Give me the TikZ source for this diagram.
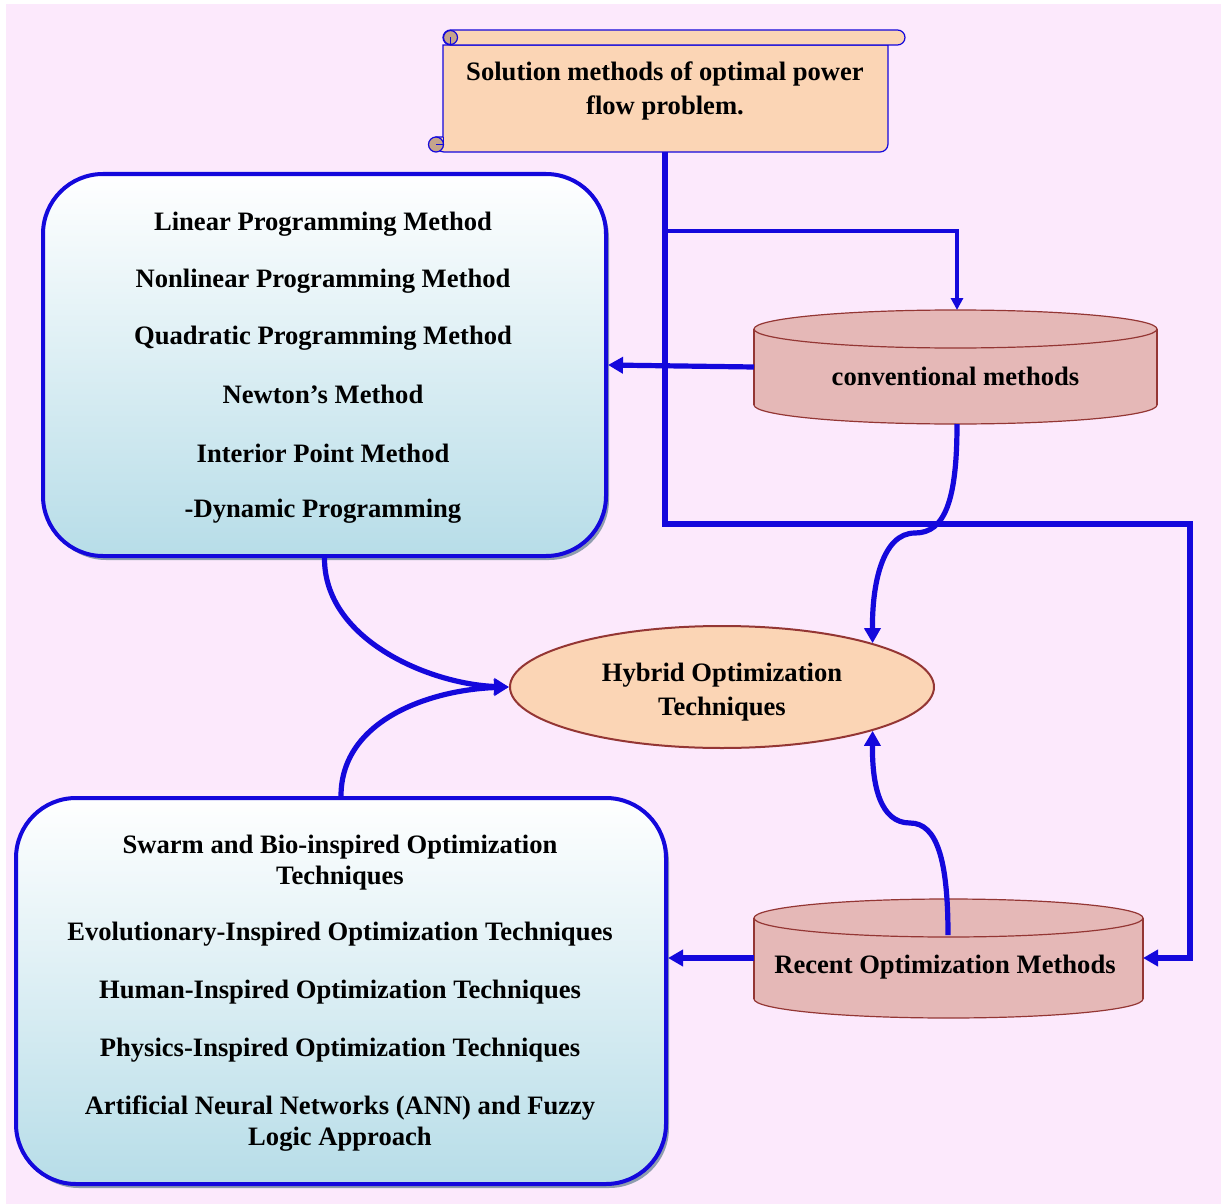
\documentclass[tikz,border=0pt]{standalone}
\usepackage{fontspec}
\setmainfont{Liberation Serif}
\usetikzlibrary{arrows.meta,shapes.geometric,shadows}

\definecolor{bgpink}{HTML}{FCE9FC}
\definecolor{linkblue}{HTML}{1408DC}
\definecolor{peach}{HTML}{FBD5B5}
\definecolor{rosefill}{HTML}{E5B8B7}
\definecolor{rosedraw}{HTML}{943634}
\definecolor{paleblue}{HTML}{B7DDE8}
\definecolor{shadowgray}{HTML}{8E9DAE}
\definecolor{curltan}{HTML}{C4A48C}

\tikzset{
  label/.style={font=\fontsize{26.6}{31}\selectfont\bfseries, align=center, inner sep=0pt},
  methodbox/.style={draw=linkblue, line width=4pt, rounded corners=60pt,
    top color=white, bottom color=paleblue, inner sep=0pt,
    drop shadow={shadow xshift=3pt, shadow yshift=-4pt, fill=shadowgray, opacity=1}},
  scrollpart/.style={draw=linkblue, line width=1.2pt, fill=peach},
  curl/.style={draw=linkblue, line width=1.2pt, fill=curltan},
  cylpart/.style={draw=rosedraw, line width=1.2pt, fill=rosefill},
  link/.style={draw=linkblue, line width=5.2pt},
  thinlink/.style={draw=linkblue, line width=3.8pt},
  bigtip/.style={-{Triangle[length=15pt,width=16pt]}},
  smalltip/.style={-{Triangle[length=12pt,width=12pt]}},
}

\begin{document}
\begin{tikzpicture}[x=1pt,y=-1pt]
\useasboundingbox (0,0) rectangle (1221,1204);
\fill[bgpink] (6,4) rectangle (1221,1204);

% scroll banner
\path[scrollpart] (443,45) -- (888,45) {[rounded corners=8pt] -- (888,152) -- (436,152)} -- (436,137) -- (443,137) -- cycle;
\path[scrollpart, rounded corners=7.5pt] (443,30) rectangle (905,45);
\path[curl] (450.5,37.5) circle [radius=7pt];
\draw[linkblue, line width=1pt] (450.5,37.5) -- (450.5,45);
\path[curl] (436,144.5) circle [radius=7.5pt];
\draw[linkblue, line width=1pt] (436,144.5) -- (443,144.5) -- (443,137);
\node[label] (title) at (665,91) {Solution methods of optimal power\\[3pt]flow problem.};
\coordinate (scb) at (665,152);
\coordinate (branch) at (665,231);
\coordinate (loop) at (1190,524);

% conventional methods cylinder
\path[cylpart] (955.5,405) ellipse [x radius=201.5pt, y radius=19pt];
\fill[rosefill] (754,329) rectangle (1157,405);
\draw[rosedraw, line width=1.2pt] (754,329) -- (754,405) (1157,329) -- (1157,405);
\path[cylpart] (955.5,329) ellipse [x radius=201.5pt, y radius=19pt];
\node[label] (convtext) at (955.5,376) {conventional methods};
\coordinate (convtop) at (957,310);
\coordinate (convwest) at (754,367);
\coordinate (convsouth) at (957,424);

% recent methods cylinder
\path[cylpart] (948.5,999) ellipse [x radius=194.5pt, y radius=19pt];
\fill[rosefill] (754,918) rectangle (1143,999);
\draw[rosedraw, line width=1.2pt] (754,918) -- (754,999) (1143,918) -- (1143,999);
\path[cylpart] (948.5,918) ellipse [x radius=194.5pt, y radius=19pt];
\node[label] (recenttext) at (945,967) {Recent Optimization Methods};
\coordinate (recentwest) at (754,958);
\coordinate (recenteast) at (1143,958);
\coordinate (recenttop) at (948,935);

% method boxes
\node[methodbox, minimum width=563pt, minimum height=382pt] (classic) at (324.5,365) {};
\node[label] (m1) at (323,224) {Linear Programming Method};
\node[label] (m2) at (323,281) {Nonlinear Programming Method};
\node[label] (m3) at (323,338) {Quadratic Programming Method};
\node[label] (m4) at (323,394) {Newton’s Method};
\node[label] (m5) at (323,453) {Interior Point Method};
\node[label] (m6) at (323,511) {-Dynamic Programming};

\node[methodbox, minimum width=650pt, minimum height=386pt] (modern) at (341,991) {};
\node[label] (n1) at (340,863) {Swarm and Bio-inspired Optimization\\Techniques};
\node[label] (n2) at (340,934) {Evolutionary-Inspired Optimization Techniques};
\node[label] (n3) at (340,992) {Human-Inspired Optimization Techniques};
\node[label] (n4) at (340,1050) {Physics-Inspired Optimization Techniques};
\node[label] (n5) at (340,1124) {Artificial Neural Networks (ANN) and Fuzzy\\Logic Approach};

% hybrid ellipse
\node[ellipse, draw=rosedraw, line width=2pt, fill=peach, minimum width=424pt, minimum height=122pt, inner sep=0pt] (hybrid) at (722,687) {};
\node[label] (hybridtext) at (722,692) {Hybrid Optimization\\[3pt]Techniques};

% connectors
\draw[link, bigtip] (scb) |- (loop) |- (recenteast);
\draw[thinlink, smalltip] (branch) -| (convtop);
\draw[link, bigtip] (convwest) -- (classic.east);
\draw[link, bigtip] (recentwest) -- (recentwest -| modern.east);
\draw[link, bigtip] (convsouth) .. controls (957,500) and (945,533) .. (915,533)
  .. controls (882,533) and (872,585) .. (hybrid.north east);
\draw[link, bigtip] (recenttop) .. controls (948,860) and (937,823) .. (910,823)
  .. controls (880,823) and (872,785) .. (hybrid.south east);
\draw[link, bigtip] (classic.south) .. controls (324,640) and (430,684) .. (hybrid.west);
\draw[link, bigtip] (modern.north) .. controls (341,720) and (430,690) .. (hybrid.west);
\end{tikzpicture}
\end{document}
